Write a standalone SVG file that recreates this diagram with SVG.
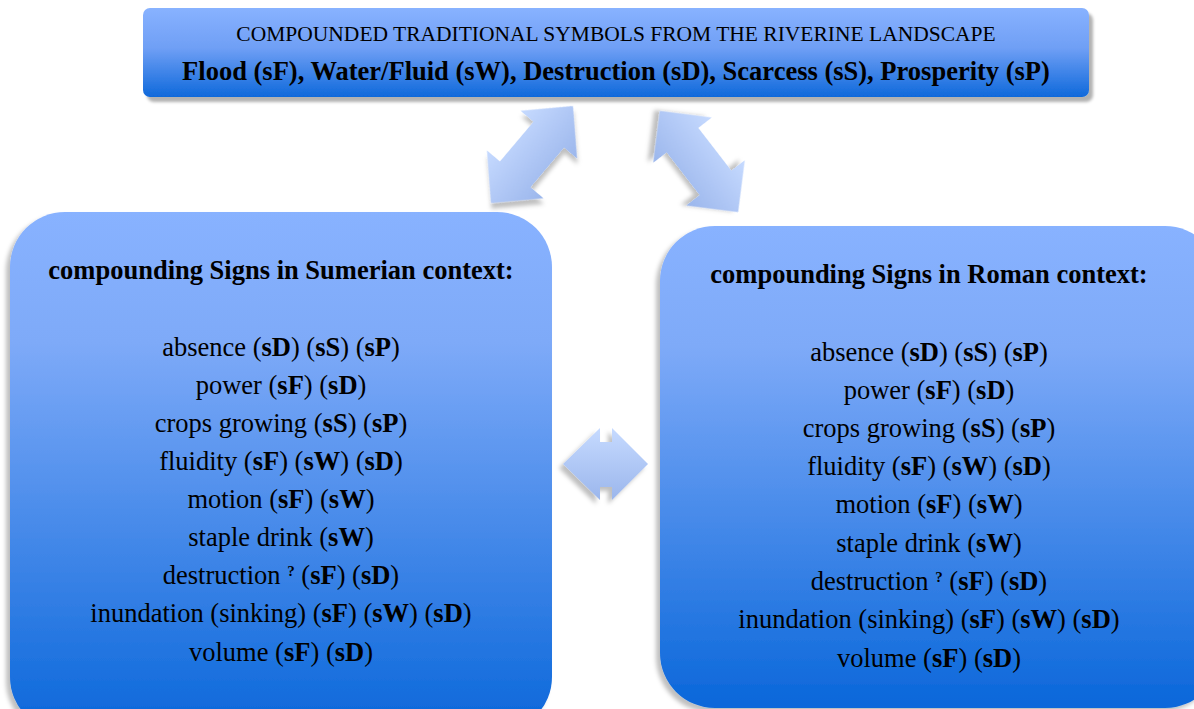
<svg xmlns="http://www.w3.org/2000/svg" width="1194" height="709" viewBox="0 0 1194 709">
<defs>
<linearGradient id="boxG" x1="0" y1="0" x2="0" y2="1">
<stop offset="0" stop-color="#88b2ff"/>
<stop offset="0.25" stop-color="#7eaaf8"/>
<stop offset="1" stop-color="#0a67da"/>
</linearGradient>
<linearGradient id="topG" x1="0" y1="0" x2="0" y2="1">
<stop offset="0" stop-color="#88b2ff"/>
<stop offset="0.45" stop-color="#6f9ff5"/>
<stop offset="1" stop-color="#0f69db"/>
</linearGradient>
<linearGradient id="arrG" x1="0" y1="0" x2="0" y2="1" gradientUnits="objectBoundingBox">
<stop offset="0" stop-color="#c6daff"/>
<stop offset="1" stop-color="#9bb6ec"/>
</linearGradient>
<filter id="shR" x="-10%" y="-10%" width="120%" height="130%">
<feDropShadow dx="4" dy="5" stdDeviation="1.5" flood-color="#000" flood-opacity="0.3"/>
</filter>
<filter id="shL" x="-10%" y="-10%" width="120%" height="120%">
<feDropShadow dx="-4" dy="4" stdDeviation="2" flood-color="#000" flood-opacity="0.25"/>
</filter>
<style>
text{font-family:"Liberation Serif","Times New Roman",serif;fill:#000;text-anchor:middle}
.b{font-weight:bold}
.hd{font-size:26.5px;font-weight:bold}
.it{font-size:26.5px}
.sup{font-size:15px;font-weight:bold}
.arr{fill:url(#arrG)}
</style>
</defs>

<g id="top-node">
<rect x="143" y="8" width="946" height="89" rx="7" fill="url(#topG)" filter="url(#shR)"/>
<text x="616" y="41" style="font-size:21.5px">COMPOUNDED TRADITIONAL SYMBOLS FROM THE RIVERINE LANDSCAPE</text>
<text x="616" y="80" class="b" style="font-size:26.5px">Flood (sF), Water/Fluid (sW), Destruction (sD), Scarcess (sS), Prosperity (sP)</text>
</g>

<g id="connectors">
<g transform="translate(532,154.5) rotate(-49.8)" filter="url(#shL)">
<polygon class="arr" points="-63.5,0 -26,-37 -26,-20 26,-20 26,-37 63.5,0 26,37 26,20 -26,20 -26,37"/>
</g>
<g transform="translate(699,161.5) rotate(52.3)" filter="url(#shL)">
<polygon class="arr" points="-64,0 -27,-37 -27,-20 27,-20 27,-37 64,0 27,37 27,20 -27,20 -27,37"/>
</g>
<g filter="url(#shL)">
<polygon class="arr" points="563,464 600,428 600,442 612,442 612,428 648,464 612,500 612,487 600,487 600,500"/>
</g>
</g>

<g id="sumerian-node">
<rect x="10" y="212" width="542" height="520" rx="55" fill="url(#boxG)" filter="url(#shL)"/>
<text x="281" y="279" class="hd">compounding Signs in Sumerian context:</text>
<text x="281" y="356" class="it">absence (<tspan class="b">sD</tspan>) (<tspan class="b">sS</tspan>) (<tspan class="b">sP</tspan>)</text>
<text x="281" y="394" class="it">power (<tspan class="b">sF</tspan>) (<tspan class="b">sD</tspan>)</text>
<text x="281" y="432" class="it">crops growing (<tspan class="b">sS</tspan>) (<tspan class="b">sP</tspan>)</text>
<text x="281" y="470" class="it">fluidity (<tspan class="b">sF</tspan>) (<tspan class="b">sW</tspan>) (<tspan class="b">sD</tspan>)</text>
<text x="281" y="508" class="it">motion (<tspan class="b">sF</tspan>) (<tspan class="b">sW</tspan>)</text>
<text x="281" y="546" class="it">staple drink (<tspan class="b">sW</tspan>)</text>
<text x="281" y="584" class="it">destruction <tspan class="sup" dy="-8">?</tspan><tspan dy="8"> </tspan>(<tspan class="b">sF</tspan>) (<tspan class="b">sD</tspan>)</text>
<text x="281" y="622" class="it">inundation (sinking) (<tspan class="b">sF</tspan>) (<tspan class="b">sW</tspan>) (<tspan class="b">sD</tspan>)</text>
<text x="281" y="661" class="it">volume (<tspan class="b">sF</tspan>) (<tspan class="b">sD</tspan>)</text>
</g>

<g id="roman-node">
<rect x="660" y="226" width="560" height="482" rx="55" fill="url(#boxG)" filter="url(#shL)"/>
<text x="929" y="283" class="hd">compounding Signs in Roman context:</text>
<text x="929" y="361" class="it">absence (<tspan class="b">sD</tspan>) (<tspan class="b">sS</tspan>) (<tspan class="b">sP</tspan>)</text>
<text x="929" y="399" class="it">power (<tspan class="b">sF</tspan>) (<tspan class="b">sD</tspan>)</text>
<text x="929" y="437" class="it">crops growing (<tspan class="b">sS</tspan>) (<tspan class="b">sP</tspan>)</text>
<text x="929" y="475" class="it">fluidity (<tspan class="b">sF</tspan>) (<tspan class="b">sW</tspan>) (<tspan class="b">sD</tspan>)</text>
<text x="929" y="513" class="it">motion (<tspan class="b">sF</tspan>) (<tspan class="b">sW</tspan>)</text>
<text x="929" y="552" class="it">staple drink (<tspan class="b">sW</tspan>)</text>
<text x="929" y="590" class="it">destruction <tspan class="sup" dy="-8">?</tspan><tspan dy="8"> </tspan>(<tspan class="b">sF</tspan>) (<tspan class="b">sD</tspan>)</text>
<text x="929" y="628" class="it">inundation (sinking) (<tspan class="b">sF</tspan>) (<tspan class="b">sW</tspan>) (<tspan class="b">sD</tspan>)</text>
<text x="929" y="667" class="it">volume (<tspan class="b">sF</tspan>) (<tspan class="b">sD</tspan>)</text>
</g>
</svg>
